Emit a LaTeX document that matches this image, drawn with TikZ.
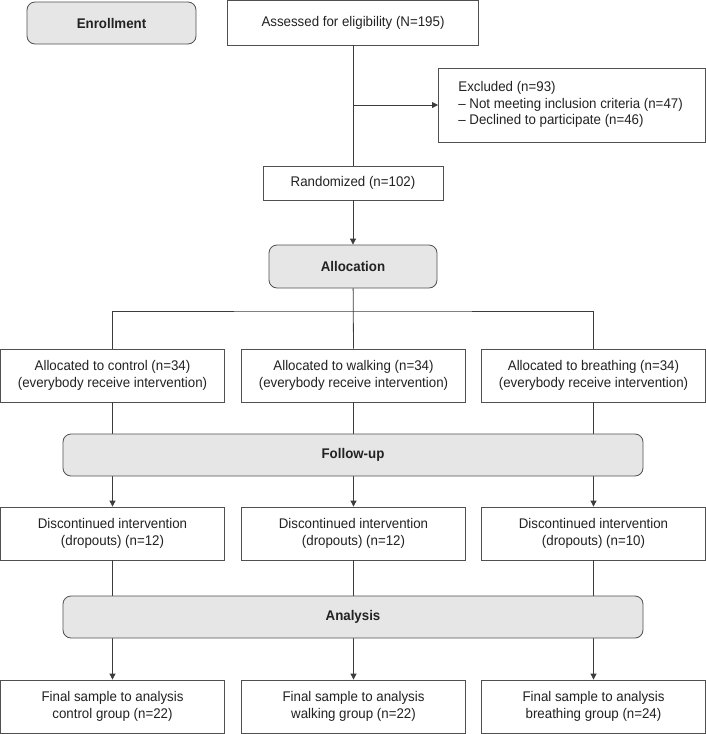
\documentclass[tikz,border=0pt]{standalone}
\usepackage{fontspec}
\setmainfont[FakeStretch=0.95]{Liberation Sans}
\usetikzlibrary{arrows.meta}
\definecolor{edge}{HTML}{505050}
\definecolor{stagefill}{HTML}{E6E6E6}
\definecolor{ink}{HTML}{222222}
\definecolor{wire}{HTML}{3C3C3C}
\begin{document}
\begin{tikzpicture}[x=1pt,y=-1pt,
  font=\fontsize{14}{16.3}\selectfont, text=ink,
  box/.style={draw=edge, line width=0.8pt, fill=white, inner sep=0pt, align=center},
  stage/.style={box, fill=stagefill, rounded corners=8pt, font=\fontsize{14}{16.3}\selectfont\bfseries},
  grp/.style={box, minimum width=224pt, minimum height=53pt},
  conn/.style={draw=wire, line width=0.8pt},
  arr/.style={conn, -{Triangle[length=6pt,width=6pt]}}]
\useasboundingbox (0,0) rectangle (706,734);

% top part
\node[stage, minimum width=169pt, minimum height=42pt] (enroll) at (111.5,23) {Enrollment};
\node[box, minimum width=251pt, minimum height=45pt] (assess) at (353,22.5) {Assessed for eligibility (N=195)};
\node[box, anchor=west, minimum width=267pt, minimum height=74pt] (excl) at (438,105)
  {\makebox[227pt][l]{\begin{tabular}{@{}l@{}}Excluded (n=93)\\– Not meeting inclusion criteria (n=47)\\– Declined to participate (n=46)\end{tabular}}};
\node[box, minimum width=180pt, minimum height=34pt] (rand) at (353,183) {Randomized (n=102)};
\node[stage, minimum width=168pt, minimum height=43pt] (alloc) at (353,266.5) {Allocation};

% group boxes
\node[grp] (a1) at (112.5,375.5) {Allocated to control (n=34)\\(everybody receive intervention)};
\node[grp] (a2) at (353.5,375.5) {Allocated to walking (n=34)\\(everybody receive intervention)};
\node[grp] (a3) at (593.5,375.5) {Allocated to breathing (n=34)\\(everybody receive intervention)};
\node[grp] (d1) at (112.5,533.5) {Discontinued intervention\\(dropouts) (n=12)};
\node[grp] (d2) at (353.5,533.5) {Discontinued intervention\\(dropouts) (n=12)};
\node[grp] (d3) at (593.5,533.5) {Discontinued intervention\\(dropouts) (n=10)};
\node[grp] (f1) at (112.5,706.5) {Final sample to analysis\\control group (n=22)};
\node[grp] (f2) at (353.5,706.5) {Final sample to analysis\\walking group (n=22)};
\node[grp] (f3) at (593.5,706.5) {Final sample to analysis\\breathing group (n=24)};

% connectors
\draw[conn] (assess) -- (rand);
\draw[arr] (excl.west -| assess.south) -- (excl.west);
\draw[arr] (rand) -- (alloc);
\coordinate (split) at (353,311);
\draw[conn] (alloc) -- (a2.north);
\draw[conn] (a1.north) |- (split) -| (a3.north);
\foreach \i in {1,2,3}{
  \draw[arr] (a\i) -- (d\i);
  \draw[arr] (d\i) -- (f\i);
}

% stage bars over the connectors
\node[stage, minimum width=580pt, minimum height=42pt] (fu) at (353,455) {Follow-up};
\node[stage, minimum width=580pt, minimum height=42pt] (an) at (353,617) {Analysis};
\end{tikzpicture}
\end{document}
